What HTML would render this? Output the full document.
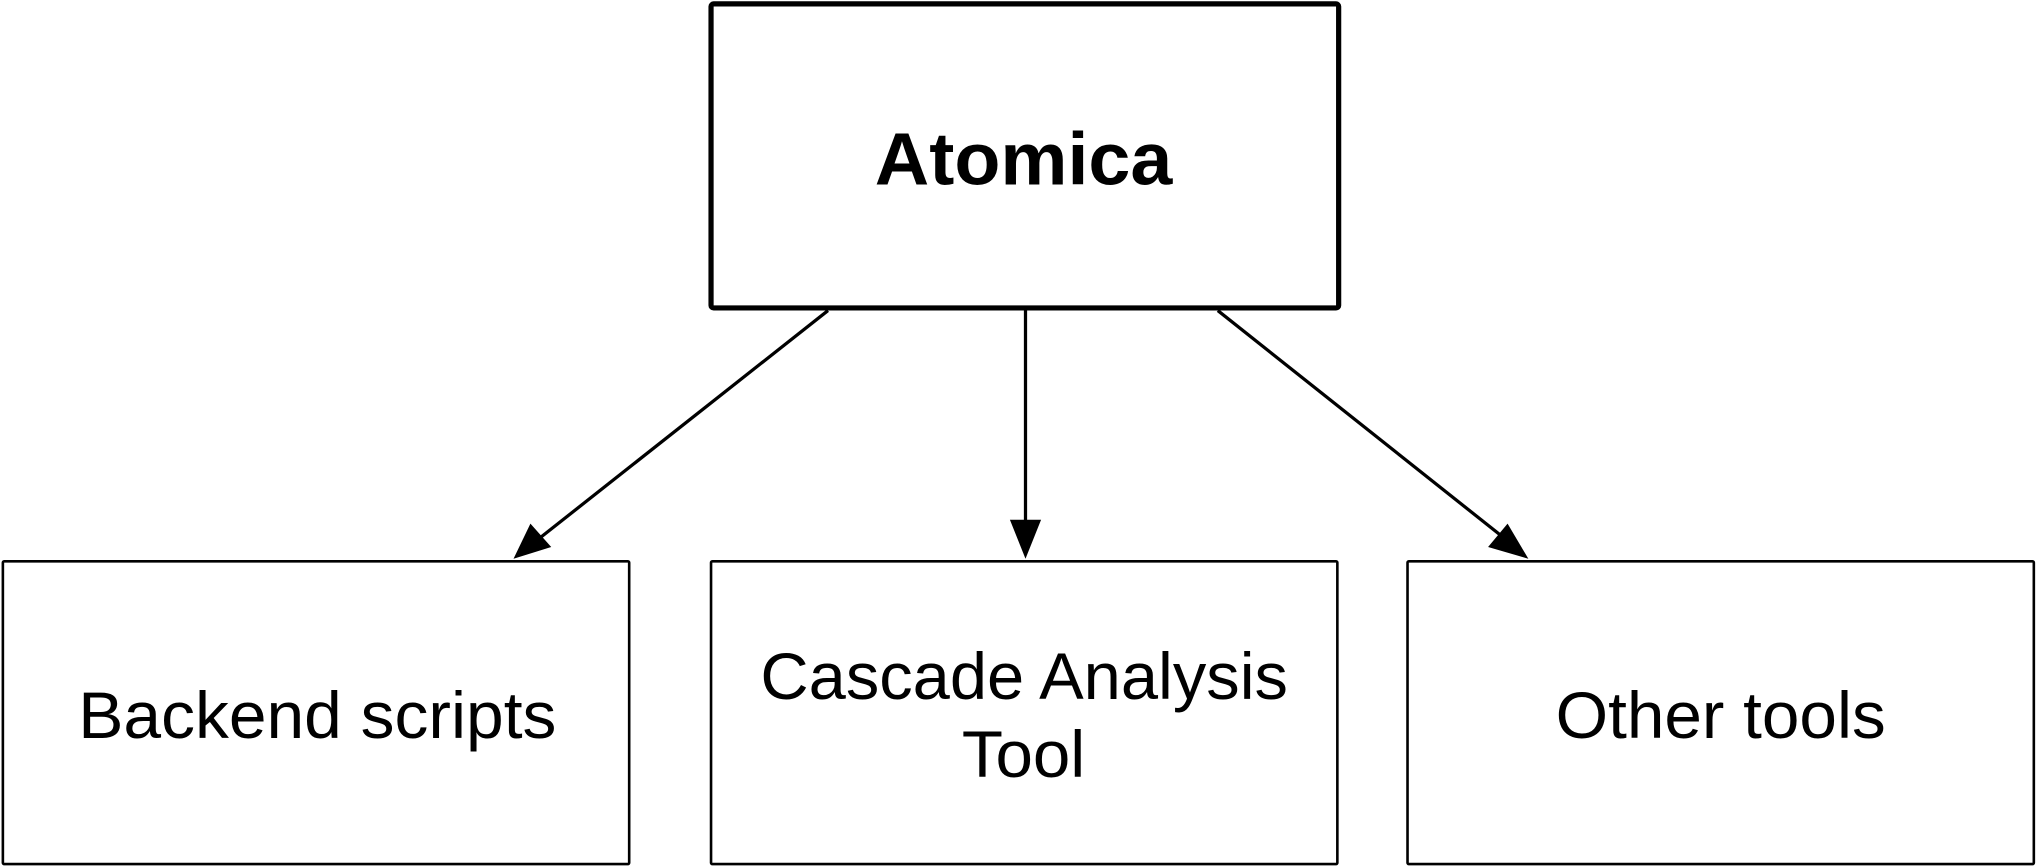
<!DOCTYPE html>
<html><head><meta charset="utf-8"><style>html,body{margin:0;padding:0;background:#fff}svg{display:block}</style></head>
<body>
<svg width="2038" height="868" viewBox="0 0 1568 668" xmlns="http://www.w3.org/2000/svg" font-family="Liberation Sans, sans-serif">
<rect x="547" y="3" width="483" height="234" rx="2" fill="#fff" stroke="#000" stroke-width="4"/>
<text x="673" y="142" font-size="57" font-weight="bold" textLength="229" lengthAdjust="spacingAndGlyphs">Atomica</text>
<rect x="2" y="432" width="482" height="233" rx="1" fill="#fff" stroke="#000" stroke-width="2"/>
<rect x="547" y="432" width="482" height="233" rx="1" fill="#fff" stroke="#000" stroke-width="2"/>
<rect x="1083" y="432" width="482" height="233" rx="1" fill="#fff" stroke="#000" stroke-width="2"/>
<g font-size="51" lengthAdjust="spacingAndGlyphs">
<text x="60" y="568" textLength="368" lengthAdjust="spacingAndGlyphs">Backend scripts</text>
<text x="585" y="538" textLength="406" lengthAdjust="spacingAndGlyphs">Cascade Analysis</text>
<text x="740" y="598" textLength="95" lengthAdjust="spacingAndGlyphs">Tool</text>
<text x="1197" y="568" textLength="254" lengthAdjust="spacingAndGlyphs">Other tools</text>
</g>
<g stroke="#000" stroke-width="2.5">
<line x1="637" y1="239" x2="414" y2="415"/>
<line x1="789" y1="239" x2="789" y2="402"/>
<line x1="937" y1="239" x2="1156" y2="413"/>
</g>
<polygon points="395,430 408,403 424,421" fill="#000"/>
<polygon points="789,430 777,400 801,400" fill="#000"/>
<polygon points="1176,430 1145,421 1160,403" fill="#000"/>
</svg>
</body></html>
